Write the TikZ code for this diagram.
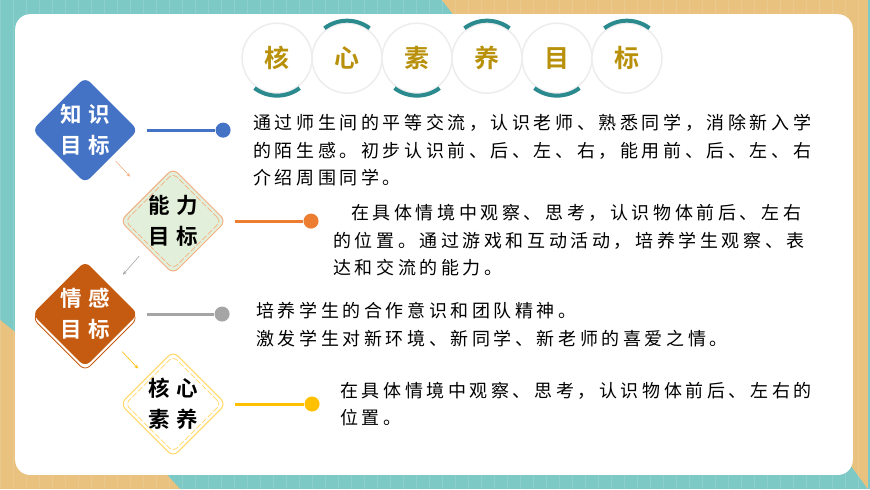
\documentclass[tikz,border=0pt]{standalone}
\usepackage{fontspec}
\setmainfont[BoldFont={Noto Sans CJK SC Bold}]{Noto Sans CJK SC}
\newfontfamily\bodyfont[LetterSpace=20]{Noto Sans CJK SC}
\usetikzlibrary{shapes.geometric,positioning,arrows.meta}

\definecolor{tealbg}{HTML}{7DC9C6}
\definecolor{tanbg}{HTML}{E9C27F}
\definecolor{arcteal}{HTML}{2A8A8E}
\definecolor{gold}{HTML}{B8900A}
\definecolor{goalblue}{HTML}{4472C4}
\definecolor{goalorange}{HTML}{ED7D31}
\definecolor{lightorange}{HTML}{F4B183}
\definecolor{goalgreen}{HTML}{E2EFDA}
\definecolor{goalbrown}{HTML}{C55A11}
\definecolor{goalgray}{HTML}{A5A5A5}
\definecolor{goalyellow}{HTML}{FFC000}
\definecolor{lightyellow}{HTML}{FFD966}

\begin{document}
\begin{tikzpicture}[x=1pt,y=-1pt,>={Stealth[length=4pt,width=3.5pt]},
    goal/.style={diamond,aspect=1,minimum width=106pt,minimum height=106pt,inner sep=0pt,
      rounded corners=7pt,align=center,font=\bfseries\fontsize{21.5}{31}\selectfont},
    innerdash/.style={diamond,aspect=1,minimum width=96pt,minimum height=96pt,inner sep=0pt,
      rounded corners=5pt,dash pattern=on 6pt off 2pt,line width=0.7pt},
    desc/.style={anchor=north west,align=left,inner sep=0pt,
      font=\bodyfont\fontsize{18}{27.5}\selectfont},
    dot/.style={circle,inner sep=0pt,minimum size=15pt},
    link/.style={line width=3pt},
    title/.style={circle,fill=white,draw=black!7,line width=1.5pt,minimum size=70pt,
      inner sep=0pt,text=gold,font=\bfseries\fontsize{25}{25}\selectfont},
    arcline/.style={arcteal,line width=4pt},
    ]
    % background
    \fill[tealbg] (0,0) rectangle (870,489);
    \fill[tanbg] (442,0) -- (868,0) -- (868,489) -- (852,467) -- (453,14) -- cycle;
    \fill[tanbg] (0,320) -- (15,332) -- (167,475) -- (180,489) -- (0,489) -- cycle;
    \draw[white,opacity=0.12,step=13] (0,0) grid (870,489);
    \fill[white,rounded corners=15pt] (15,14) rectangle (853,475);

    % title
    \foreach \ch [count=\i] in {核,心,素,养,目,标}
        \node[title] (t\i) at ({207+70*\i},58) {\ch};
    \foreach \i in {1,3,5}
        \draw[arcline] (t\i.center) ++(53:37.5) arc[start angle=53,end angle=127,radius=37.5];
    \foreach \i in {2,4,6}
        \draw[arcline] (t\i.center) ++(233:37.5) arc[start angle=233,end angle=307,radius=37.5];

    % goals
    \node[goal,fill=goalblue,text=white]  (zhishi)  at (85,130)  {知\hspace{6pt}识\\目\hspace{6pt}标};
    \node[goal,fill=goalgreen,draw=lightorange,line width=1pt] (nengli) at (173,221)
        {能\hspace{6pt}力\\目\hspace{6pt}标};
    \node[innerdash,draw=lightorange] at (nengli) {};
    \node[goal,fill=white,draw=goalbrown,line width=0.8pt] at (85,318) {};
    \node[goal,fill=goalbrown,text=white] (qinggan) at (85,314) {情\hspace{6pt}感\\目\hspace{6pt}标};
    \node[goal,fill=white,draw=lightyellow,line width=1pt] (hexin) at (173,404)
        {核\hspace{6pt}心\\素\hspace{6pt}养};
    \node[innerdash,draw=lightyellow] at (hexin) {};

    % dots
    \node[dot,fill=goalblue]   (d1) at (223,130) {};
    \node[dot,fill=goalorange] (d2) at (311,221) {};
    \node[dot,fill=goalgray]   (d3) at (222,314) {};
    \node[dot,fill=goalyellow] (d4) at (312,404) {};

    \draw[link,goalblue]   ([xshift=9pt]zhishi.east)  -- (d1);
    \draw[link,goalorange] ([xshift=8pt]nengli.east)  -- (d2);
    \draw[link,goalgray]   ([xshift=9pt]qinggan.east) -- (d3);
    \draw[link,goalyellow] ([xshift=8pt]hexin.east)   -- (d4);

    \path[->,line width=0.6pt]
        (zhishi.south east)  edge[lightorange,shorten <=6pt,shorten >=24pt]  (nengli.north west)
        (nengli.south west)  edge[goalgray,shorten <=11pt,shorten >=17pt]    (qinggan.north east)
        (qinggan.south east) edge[goalyellow,shorten <=15pt,shorten >=12pt]  (hexin.north west)
        ;

    % texts
    \node[desc] (txt1) at (253,114) {通过师生间的平等交流，认识老师、熟悉同学，消除新入学\\
        的陌生感。初步认识前、后、左、右，能用前、后、左、右\\介绍周围同学。};
    \node[desc] (txt2) at (333,204) {\hspace{18pt}在具体情境中观察、思考，认识物体前后、左右\\
        的位置。通过游戏和互动活动，培养学生观察、表\\达和交流的能力。};
    \node[desc] (txt3) at (256,302) {培养学生的合作意识和团队精神。\\
        激发学生对新环境、新同学、新老师的喜爱之情。};
    \node[desc] (txt4) at (340,382) {在具体情境中观察、思考，认识物体前后、左右的\\位置。};
\end{tikzpicture}
\end{document}
